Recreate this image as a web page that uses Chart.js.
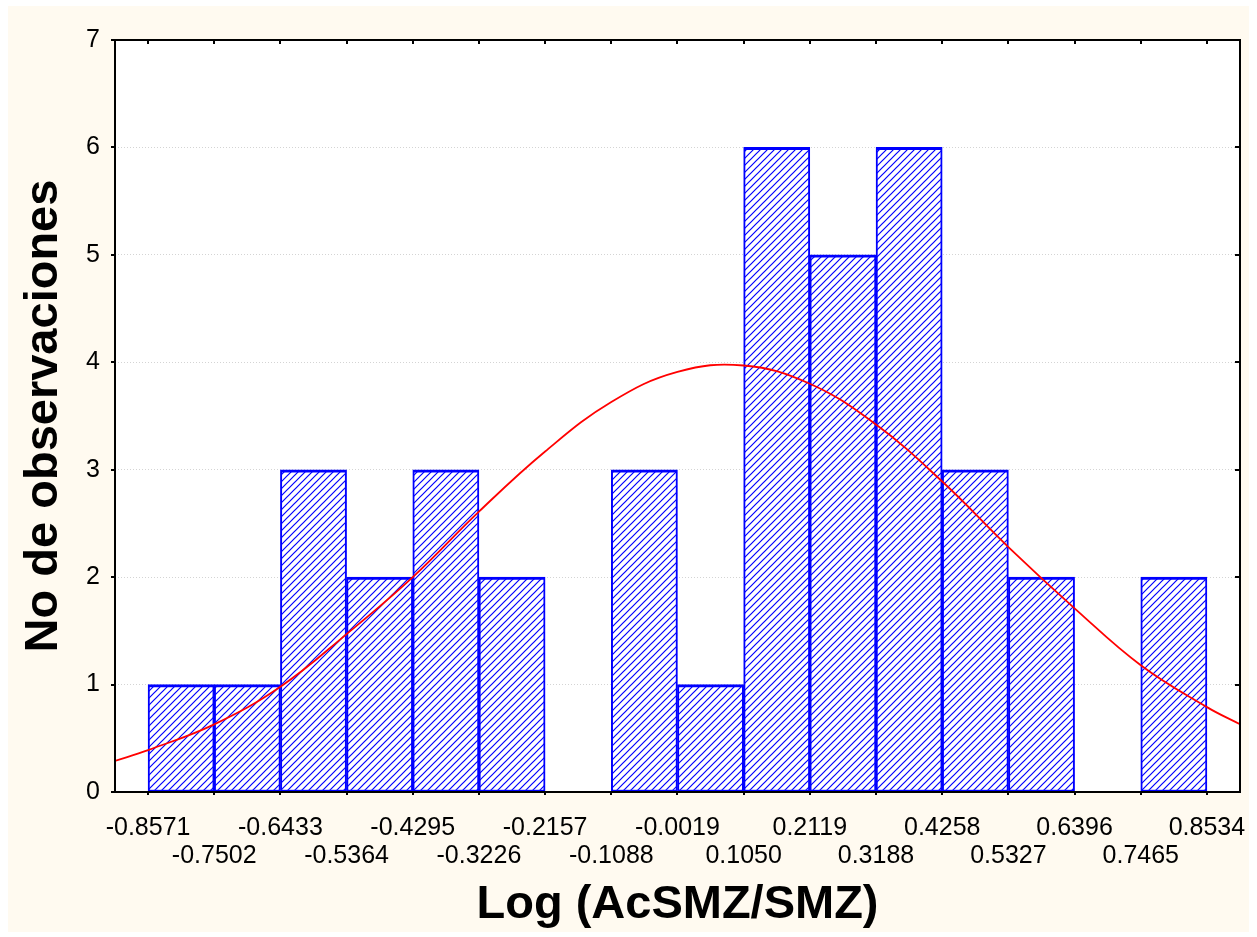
<!DOCTYPE html>
<html>
<head>
<meta charset="utf-8">
<title>Log (AcSMZ/SMZ)</title>
<script src="https://cdn.jsdelivr.net/npm/chart.js@4.4.0/dist/chart.umd.min.js"></script>
<style>
    html, body { margin: 0; padding: 0; background: #ffffff; }
    #marco { position: absolute; left: 8px; top: 6px; width: 1241px; height: 926px; background: #FFFAF0; }
    canvas { display: block; }
</style>
</head>
<body>
<div id="marco"><canvas id="grafico" width="1241" height="926"></canvas></div>
<script>
// Bordes de las clases (también son las etiquetas del eje X)
const bordesX = [-0.8571, -0.7502, -0.6433, -0.5364, -0.4295, -0.3226, -0.2157, -0.1088,
    -0.0019, 0.1050, 0.2119, 0.3188, 0.4258, 0.5327, 0.6396, 0.7465, 0.8534];
const etiquetasX = ['-0.8571', '-0.7502', '-0.6433', '-0.5364', '-0.4295', '-0.3226', '-0.2157', '-0.1088',
    '-0.0019', '0.1050', '0.2119', '0.3188', '0.4258', '0.5327', '0.6396', '0.7465', '0.8534'];

// Número de observaciones en cada clase
const frecuencias = [1, 1, 3, 2, 3, 2, 0, 3, 1, 6, 5, 6, 3, 2, 0, 2];

// Curva normal ajustada
const curvaX = [-0.9105, -0.8571, -0.7502, -0.6433, -0.5364, -0.4295, -0.3226, -0.2157, -0.1088,
    -0.0019, 0.1050, 0.2119, 0.3188, 0.4258, 0.5327, 0.6396, 0.7465, 0.8534, 0.9068];
const curvaY = [0.29, 0.39, 0.63, 0.98, 1.47, 2.00, 2.61, 3.17, 3.63,
    3.91, 3.97, 3.80, 3.42, 2.89, 2.28, 1.71, 1.18, 0.79, 0.63];

const ejeYTicks = [0, 1, 2, 3, 4, 5, 6, 7];

// Trama rayada de las barras
function crearTrama() {
    const c = document.createElement('canvas');
    c.width = 7; c.height = 7;
    const g = c.getContext('2d');
    g.fillStyle = '#ffffff';
    g.fillRect(0, 0, 7, 7);
    g.strokeStyle = '#0000ff';
    g.lineWidth = 1.2;
    g.beginPath();
    g.moveTo(-1, 8); g.lineTo(8, -1);
    g.moveTo(-1, 1); g.lineTo(1, -1);
    g.moveTo(6, 8); g.lineTo(8, 6);
    g.stroke();
    return g.createPattern(c, 'repeat');
}

// Fondo blanco del área, marco negro y marcas de los ejes
const marcoPlugin = {
    id: 'marco',
    beforeDraw(chart) {
        const a = chart.chartArea;
        const ctx = chart.ctx;
        ctx.save();
        ctx.fillStyle = '#ffffff';
        ctx.fillRect(a.left, a.top, a.right - a.left, a.bottom - a.top);
        ctx.restore();
    },
    afterDatasetsDraw(chart) {
        const a = chart.chartArea;
        const ctx = chart.ctx;
        const x = chart.scales.x, y = chart.scales.y;
        ctx.save();
        ctx.strokeStyle = '#000000';
        ctx.lineWidth = 2;
        ctx.strokeRect(a.left, a.top, a.right - a.left, a.bottom - a.top);
        ctx.beginPath();
        ejeYTicks.forEach(v => {
            const py = Math.round(y.getPixelForValue(v));
            ctx.moveTo(a.left - 4, py); ctx.lineTo(a.left, py);
            ctx.moveTo(a.right - 5, py); ctx.lineTo(a.right, py);
        });
        bordesX.forEach(v => {
            const px = Math.round(x.getPixelForValue(v));
            ctx.moveTo(px, a.top); ctx.lineTo(px, a.top + 4);
            ctx.moveTo(px, a.bottom); ctx.lineTo(px, a.bottom + 3);
        });
        ctx.stroke();
        ctx.restore();
    }
};

const centros = frecuencias.map((f, i) => (bordesX[i] + bordesX[i + 1]) / 2);

const ctx = document.getElementById('grafico').getContext('2d');
new Chart(ctx, {
    type: 'bar',
    data: {
        datasets: [
            {
                type: 'line',
                data: curvaX.map((v, i) => ({ x: v, y: curvaY[i] })),
                borderColor: '#ff0000',
                borderWidth: 1.8,
                pointRadius: 0,
                tension: 0.4,
                fill: false,
                order: 0
            },
            {
                type: 'bar',
                data: centros.map((c, i) => ({ x: c, y: frecuencias[i] })),
                backgroundColor: crearTrama(),
                borderColor: '#0000ff',
                borderWidth: { top: 3, bottom: 2, left: 2, right: 2 },
                borderSkipped: false,
                barPercentage: 1,
                categoryPercentage: 1,
                order: 1
            }
        ]
    },
    options: {
        responsive: false,
        animation: false,
        devicePixelRatio: 1,
        layout: { padding: { top: 34, right: 9, left: 0, bottom: 0 } },
        plugins: { legend: { display: false }, tooltip: { enabled: false } },
        scales: {
            x: {
                type: 'linear',
                min: -0.9105,
                max: 0.9068,
                offset: false,
                grid: { display: false, offset: false },
                border: { display: false },
                afterBuildTicks: scale => { scale.ticks = bordesX.map(v => ({ value: v })); },
                afterFit: scale => {
                    scale.height = 140;
                    scale.paddingLeft = 0;
                    scale.paddingRight = 0;
                },
                ticks: {
                    autoSkip: false,
                    maxRotation: 0,
                    minRotation: 0,
                    padding: 14,
                    color: '#000000',
                    font: { family: '"Liberation Sans", Arial, sans-serif', size: 25, lineHeight: 1.12 },
                    callback: (value, index) => index % 2 === 0 ? etiquetasX[index] : ['', etiquetasX[index]]
                },
                title: {
                    display: true,
                    text: 'Log (AcSMZ/SMZ)',
                    color: '#000000',
                    padding: { top: 0, bottom: 3.5 },
                    font: { family: '"Liberation Sans", Arial, sans-serif', size: 47, weight: 'bold', lineHeight: 1 }
                }
            },
            y: {
                min: 0,
                max: 7,
                afterBuildTicks: scale => { scale.ticks = ejeYTicks.map(v => ({ value: v })); },
                afterFit: scale => { scale.width = 107; },
                grid: { color: '#d4d4d4', lineWidth: 1, drawTicks: false },
                border: { display: false, dash: [1, 2] },
                ticks: {
                    padding: 15,
                    color: '#000000',
                    font: { family: '"Liberation Sans", Arial, sans-serif', size: 25 }
                },
                title: {
                    display: true,
                    text: 'No de observaciones',
                    color: '#000000',
                    padding: { top: 13, bottom: 0 },
                    font: { family: '"Liberation Sans", Arial, sans-serif', size: 47, weight: 'bold', lineHeight: 1 }
                }
            }
        }
    },
    plugins: [marcoPlugin]
});
</script>
</body>
</html>
